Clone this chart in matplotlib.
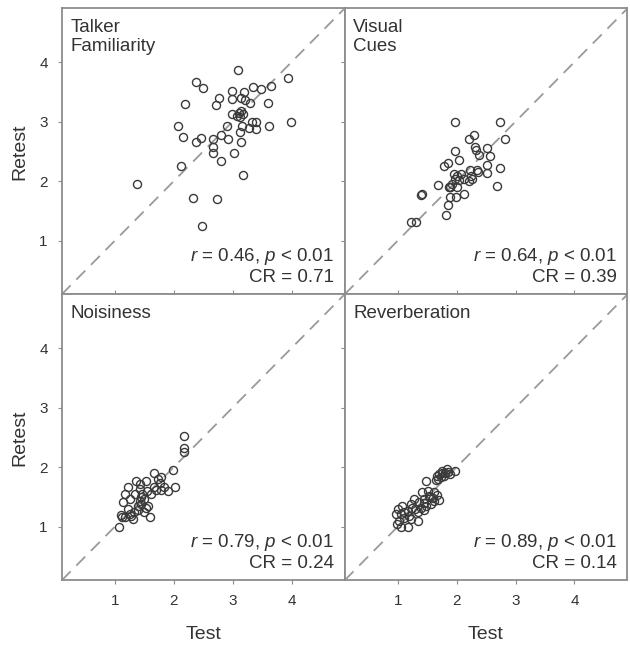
import matplotlib
matplotlib.use("Agg")
import matplotlib.pyplot as plt

plt.rcParams["font.family"] = ["Liberation Sans", "DejaVu Sans"]
plt.rcParams["mathtext.fontset"] = "custom"
plt.rcParams["mathtext.rm"] = "Liberation Sans"
plt.rcParams["mathtext.it"] = "Liberation Sans:italic"

TEXT = "#333333"
FRAME = "#8c8c8c"
MARK = "#3a3a3a"
LIM = (0.1, 4.9)
TICKS = [1, 2, 3, 4]

# Talker Familiarity
talker_test = [3.09, 2.37, 2.49, 3.94, 2.99, 3.19, 3.34, 3.48, 3.65, 2.20,
               2.77, 2.71, 2.99, 3.14, 3.21, 3.30, 3.60, 2.99, 3.10, 3.14,
               3.07, 3.17, 3.12, 2.08, 2.15, 2.38, 2.47, 2.67, 2.80, 2.91,
               2.92, 3.16, 3.12, 3.27, 3.33, 3.40, 3.40, 3.62, 3.99, 3.15,
               2.67, 2.67, 3.02, 2.80, 2.12, 3.17, 1.38, 2.33, 2.73, 2.48]
talker_retest = [3.86, 3.66, 3.57, 3.74, 3.52, 3.50, 3.58, 3.54, 3.59, 3.30,
                 3.39, 3.28, 3.38, 3.39, 3.36, 3.31, 3.32, 3.13, 3.15, 3.17,
                 3.10, 3.12, 3.08, 2.93, 2.75, 2.66, 2.72, 2.71, 2.78, 2.92,
                 2.71, 2.93, 2.82, 2.89, 3.00, 3.00, 2.88, 2.93, 2.99, 2.65,
                 2.58, 2.47, 2.48, 2.34, 2.26, 2.10, 1.96, 1.71, 1.70, 1.24]

# Visual Cues
visual_test = [1.98, 2.74, 2.83, 2.21, 2.29, 2.32, 2.33, 2.52, 2.57, 1.98,
               2.38, 2.04, 1.79, 1.86, 2.52, 2.73, 2.35, 2.37, 2.52, 2.23,
               1.96, 2.01, 2.08, 1.98, 2.04, 2.12, 2.21, 1.89, 2.00, 1.93,
               2.24, 1.69, 2.69, 1.87, 1.40, 1.41, 1.89, 1.99, 2.12, 1.85,
               1.82, 1.22, 1.31, 2.26, 1.89]
visual_retest = [3.00, 3.00, 2.71, 2.71, 2.78, 2.57, 2.53, 2.55, 2.42, 2.50,
                 2.44, 2.36, 2.26, 2.30, 2.27, 2.22, 2.19, 2.16, 2.14, 2.19,
                 2.12, 2.09, 2.12, 2.04, 2.02, 2.04, 2.01, 1.90, 1.90, 1.95,
                 2.09, 1.94, 1.92, 1.90, 1.77, 1.78, 1.74, 1.74, 1.78, 1.60,
                 1.43, 1.31, 1.32, 2.03, 1.91]

# Noisiness
noise_test = [2.18, 2.18, 2.18, 1.98, 1.66, 2.02, 1.73, 1.78, 1.76, 1.84,
              1.90, 1.67, 1.70, 1.61, 1.55, 1.53, 1.43, 1.36, 1.43, 1.35,
              1.17, 1.22, 1.25, 1.42, 1.50, 1.45, 1.39, 1.57, 1.32, 1.25,
              1.49, 1.60, 1.17, 1.22, 1.12, 1.10, 1.14, 1.07, 1.47, 1.53,
              1.31, 1.78, 1.45, 1.40, 1.28]
noise_retest = [2.52, 2.32, 2.25, 1.95, 1.91, 1.67, 1.80, 1.83, 1.73, 1.66,
                1.60, 1.66, 1.62, 1.55, 1.60, 1.76, 1.72, 1.76, 1.63, 1.55,
                1.55, 1.66, 1.46, 1.44, 1.46, 1.38, 1.34, 1.34, 1.24, 1.21,
                1.24, 1.16, 1.16, 1.30, 1.17, 1.20, 1.41, 1.00, 1.55, 1.32,
                1.13, 1.62, 1.50, 1.28, 1.18]

# Reverberation
reverb_test = [1.97, 1.89, 1.81, 1.76, 1.70, 1.66, 1.79, 1.73, 1.65, 1.84,
               1.48, 1.62, 1.66, 1.70, 1.62, 1.53, 1.42, 1.45, 1.37, 1.48,
               1.39, 1.44, 1.34, 1.25, 1.22, 1.28, 1.17, 1.11, 1.06, 0.97,
               1.03, 1.11, 1.22, 1.34, 1.08, 1.00, 0.99, 1.05, 1.17, 1.51,
               1.56, 1.55, 1.60, 1.30, 1.20, 1.45, 1.75, 1.85, 1.68]
reverb_retest = [1.94, 1.89, 1.91, 1.93, 1.88, 1.86, 1.86, 1.83, 1.78, 1.97,
                 1.76, 1.58, 1.54, 1.45, 1.44, 1.52, 1.58, 1.46, 1.41, 1.35,
                 1.32, 1.28, 1.24, 1.32, 1.39, 1.46, 1.27, 1.24, 1.21, 1.22,
                 1.10, 1.15, 1.13, 1.10, 1.35, 1.30, 1.05, 0.99, 1.00, 1.60,
                 1.38, 1.50, 1.48, 1.30, 1.18, 1.40, 1.90, 1.92, 1.80]

titles = ["Talker\nFamiliarity", "Visual\nCues", "Noisiness", "Reverberation"]
r_vals = ["0.46", "0.64", "0.79", "0.89"]
cr_vals = ["0.71", "0.39", "0.24", "0.14"]
panels = [(talker_test, talker_retest), (visual_test, visual_retest),
          (noise_test, noise_retest), (reverb_test, reverb_retest)]

fig, axes = plt.subplots(2, 2, figsize=(6.3, 6.47), dpi=100)
fig.subplots_adjust(left=0.098, right=0.996, top=0.987, bottom=0.103,
                    wspace=0, hspace=0)

for i, ax in enumerate(axes.flat):
    row, col = divmod(i, 2)
    x, y = panels[i]

    ax.plot(LIM, LIM, color="#9a9a9a", lw=1.3, dashes=(7, 4.5), zorder=1)
    ax.plot(x, y, "o", ms=5.8, mfc="none", mec=MARK, mew=1.0, zorder=2)

    ax.set_xlim(LIM)
    ax.set_ylim(LIM)
    ax.set_xticks(TICKS)
    ax.set_yticks(TICKS)

    for s in ax.spines.values():
        s.set_color(FRAME)
        s.set_linewidth(1.3)

    ax.tick_params(direction="out", length=3, width=0.8, color=FRAME,
                   labelcolor=TEXT, labelsize=11, pad=7,
                   top=(row == 1), right=(col == 0),
                   labelleft=(col == 0), labelbottom=(row == 1))

    ax.text(0.03, 0.962, titles[i], transform=ax.transAxes, ha="left",
            va="top", fontsize=13.5, color=TEXT, linespacing=1.12)
    stats = f"$\\it{{r}}$ = {r_vals[i]}, $\\it{{p}}$ < 0.01\nCR = {cr_vals[i]}"
    ax.text(0.962, 0.03, stats, transform=ax.transAxes, ha="right",
            va="bottom", fontsize=13.5, color=TEXT, linespacing=1.15)

    if col == 0:
        ax.set_ylabel("Retest", fontsize=14, color=TEXT, labelpad=8)
    if row == 1:
        ax.set_xlabel("Test", fontsize=14, color=TEXT, labelpad=13)

fig.savefig("out.png", dpi=100)
